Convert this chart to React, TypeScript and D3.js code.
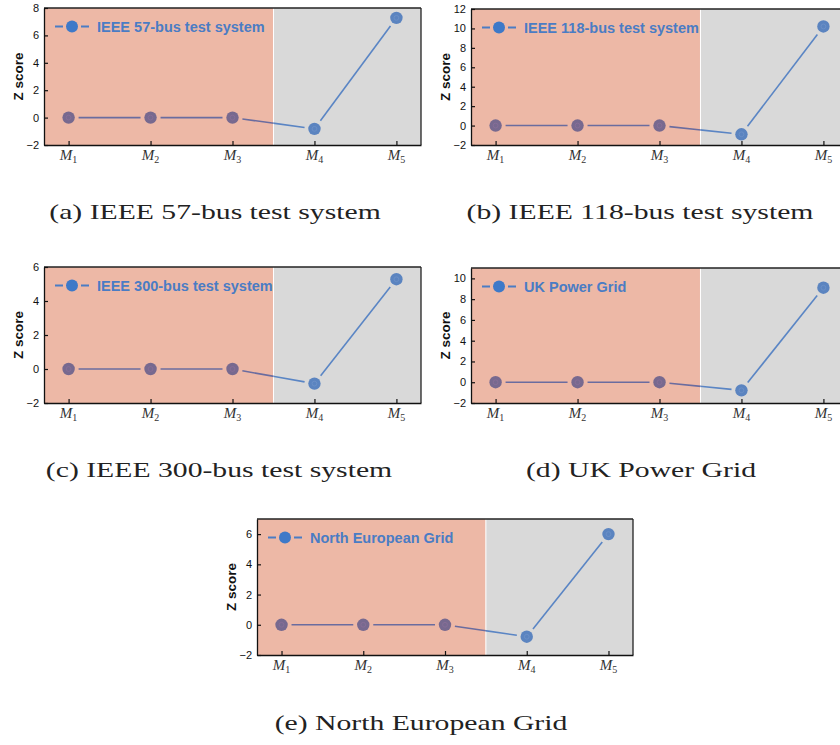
import React, { useEffect, useRef } from 'react';
import * as d3 from 'd3';

// --- data ---
const methodIndex = [1, 2, 3, 4, 5];
const methodSubs = ['1', '2', '3', '4', '5'];

const legendLabels = [
  'IEEE 57-bus test system',
  'IEEE 118-bus test system',
  'IEEE 300-bus test system',
  'UK Power Grid',
  'North European Grid'
];
const captions = [
  '(a) IEEE 57-bus test system',
  '(b) IEEE 118-bus test system',
  '(c) IEEE 300-bus test system',
  '(d) UK Power Grid',
  '(e) North European Grid'
];

const zIeee57 = [0, 0, 0, -0.82, 7.28];
const zIeee118 = [0, 0, 0, -0.9, 10.2];
const zIeee300 = [0, 0, 0, -0.86, 5.28];
const zUkGrid = [0, 0, 0, -0.78, 9.1];
const zNorthEu = [0, 0, 0, -0.79, 6.0];

const ticks57 = [-2, 0, 2, 4, 6, 8];
const ticks118 = [-2, 0, 2, 4, 6, 8, 10, 12];
const ticks300 = [-2, 0, 2, 4, 6];
const ticksUk = [-2, 0, 2, 4, 6, 8, 10];
const ticksNorth = [-2, 0, 2, 4, 6];

const yMax = [8, 12, 6, 11, 7];
const yMin = -2;
const splitAt = 3.5;

// panel boxes in page pixels
const boxes = [
  { left: 44, right: 421, top: 8, bottom: 145, capX: 215, capY: 219 },
  { left: 471, right: 848, top: 9, bottom: 145, capX: 640, capY: 219 },
  { left: 44, right: 421, top: 267, bottom: 403, capX: 219, capY: 477 },
  { left: 471, right: 848, top: 268, bottom: 403, capX: 641, capY: 477 },
  { left: 257, right: 633, top: 519, bottom: 655, capX: 421, capY: 730 }
];

const seriesList = [zIeee57, zIeee118, zIeee300, zUkGrid, zNorthEu];
const tickList = [ticks57, ticks118, ticks300, ticksUk, ticksNorth];

const PINK = '#edb8a6';
const GRAY = '#d9d9d9';
const DOT_PINK = '#77698f';
const DOT_GRAY = '#5b84c0';
const LINE_PINK = '#6a6c9f';
const LINE_GRAY = '#5a85c4';
const LEGEND_BLUE = '#4a7cc4';
const SANS = 'Liberation Sans, Arial, sans-serif';
const SERIF = 'Liberation Serif, Times New Roman, serif';

function App() {
  const svgRef = useRef<SVGSVGElement>(null);

  useEffect(() => {
    const svg = d3.select(svgRef.current);
    svg.selectAll('*').remove();

    seriesList.forEach((values, i) => {
      const b = boxes[i];
      const x = d3.scaleLinear().domain([0.7, 5.3]).range([b.left, b.right]);
      const y = d3.scaleLinear().domain([yMin, yMax[i]]).range([b.bottom, b.top]);
      const g = svg.append('g');
      const xs = x(splitAt);

      // background regions
      g.append('rect')
        .attr('x', b.left).attr('y', b.top)
        .attr('width', xs - b.left).attr('height', b.bottom - b.top)
        .attr('fill', PINK);
      g.append('rect')
        .attr('x', xs).attr('y', b.top)
        .attr('width', b.right - xs).attr('height', b.bottom - b.top)
        .attr('fill', GRAY);
      g.append('line')
        .attr('x1', xs).attr('x2', xs)
        .attr('y1', b.top).attr('y2', b.bottom)
        .attr('stroke', '#fff').attr('stroke-width', 1);

      // clip regions for line colours
      const defs = g.append('defs');
      defs.append('clipPath').attr('id', `clipP${i}`)
        .append('rect')
        .attr('x', b.left).attr('y', b.top - 20)
        .attr('width', xs - b.left).attr('height', b.bottom - b.top + 40);
      defs.append('clipPath').attr('id', `clipG${i}`)
        .append('rect')
        .attr('x', xs).attr('y', b.top - 20)
        .attr('width', b.right - xs + 20).attr('height', b.bottom - b.top + 40);

      // segments with gaps at symbols
      const gap = 10;
      const segs = d3.pairs(methodIndex.map((m, k) => [x(m), y(values[k])]));
      [['P', LINE_PINK], ['G', LINE_GRAY]].forEach(([id, col]) => {
        g.append('g')
          .attr('clip-path', `url(#clip${id}${i})`)
          .selectAll('line')
          .data(segs)
          .join('line')
          .each(function ([p0, p1]) {
            const dx = p1[0] - p0[0];
            const dy = p1[1] - p0[1];
            const len = Math.hypot(dx, dy);
            const ux = dx / len, uy = dy / len;
            d3.select(this)
              .attr('x1', p0[0] + ux * gap).attr('y1', p0[1] + uy * gap)
              .attr('x2', p1[0] - ux * gap).attr('y2', p1[1] - uy * gap);
          })
          .attr('stroke', col)
          .attr('stroke-width', 1.6);
      });

      // markers
      const dots = g.append('g').selectAll('g')
        .data(methodIndex)
        .join('g')
        .attr('transform', (m, k) => `translate(${x(m)},${y(values[k])})`);
      dots.append('circle')
        .attr('r', 6.2)
        .attr('fill', m => (m < splitAt ? DOT_PINK : DOT_GRAY));
      dots.append('circle')
        .attr('r', 2.4)
        .attr('fill', 'none')
        .attr('stroke', m => (m < splitAt ? '#8a6f98' : '#6e92c8'))
        .attr('stroke-width', 0.8);

      // frame
      g.append('line')
        .attr('x1', b.left).attr('x2', b.right)
        .attr('y1', b.top).attr('y2', b.top)
        .attr('stroke', '#222').attr('stroke-width', 1.3);
      g.append('line')
        .attr('x1', b.right).attr('x2', b.right)
        .attr('y1', b.top).attr('y2', b.bottom)
        .attr('stroke', '#222').attr('stroke-width', 1.3);

      // y axis
      const yAxis = g.append('g')
        .attr('transform', `translate(${b.left},0)`)
        .call(d3.axisLeft(y).tickValues(tickList[i]).tickSizeInner(-4).tickSizeOuter(0).tickPadding(5));
      yAxis.select('.domain').attr('stroke', '#111').attr('stroke-width', 1.3);
      yAxis.selectAll('.tick line').attr('stroke', '#111').attr('stroke-width', 1.2);
      yAxis.selectAll('.tick text')
        .attr('font-family', SANS).attr('font-size', 11).attr('fill', '#111');

      // x axis
      const xAxis = g.append('g')
        .attr('transform', `translate(0,${b.bottom})`)
        .call(d3.axisBottom(x).tickValues(methodIndex).tickSizeInner(-4).tickSizeOuter(0).tickFormat(() => ''));
      xAxis.select('.domain').attr('stroke', '#111').attr('stroke-width', 1.3);
      xAxis.selectAll('.tick line').attr('stroke', '#111').attr('stroke-width', 1.2);

      const xl = g.append('g').selectAll('text')
        .data(methodIndex)
        .join('text')
        .attr('x', m => x(m))
        .attr('y', b.bottom + 15)
        .attr('text-anchor', 'middle')
        .attr('font-family', SERIF)
        .attr('fill', '#333');
      xl.append('tspan').attr('font-style', 'italic').attr('font-size', 15).text('M');
      xl.append('tspan').attr('font-size', 10).attr('dy', 3).text((m, k) => methodSubs[k]);

      // y label
      g.append('text')
        .attr('transform', `translate(${b.left - 21},${(b.top + b.bottom) / 2}) rotate(-90)`)
        .attr('text-anchor', 'middle')
        .attr('font-family', SANS)
        .attr('font-weight', 'bold')
        .attr('font-size', 13.5)
        .attr('fill', '#111')
        .text('Z score');

      // legend
      const ly = b.top + 18.5;
      const lx = b.left + 28;
      g.append('line')
        .attr('x1', lx - 17).attr('x2', lx + 17)
        .attr('y1', ly).attr('y2', ly)
        .attr('stroke', LEGEND_BLUE).attr('stroke-width', 1.8)
        .attr('stroke-dasharray', '8,18');
      g.append('circle')
        .attr('cx', lx).attr('cy', ly).attr('r', 6)
        .attr('fill', '#3e79c8');
      g.append('text')
        .attr('x', lx + 25).attr('y', ly + 5)
        .attr('font-family', SANS)
        .attr('font-weight', 'bold')
        .attr('font-size', 14.5)
        .attr('fill', LEGEND_BLUE)
        .text(legendLabels[i]);

      // caption (reference glyphs are wide, so stretch horizontally)
      svg.append('text')
        .attr('transform', `translate(${b.capX},${b.capY}) scale(1.35,1)`)
        .attr('text-anchor', 'middle')
        .attr('font-family', SERIF)
        .attr('font-size', 22)
        .attr('fill', '#222')
        .text(captions[i]);
    });
  }, []);

  return (
    <svg
      ref={svgRef}
      width={840}
      height={745}
      style={{ position: 'absolute', left: 0, top: 0, background: '#fff' }}
    />
  );
}

export default App;
